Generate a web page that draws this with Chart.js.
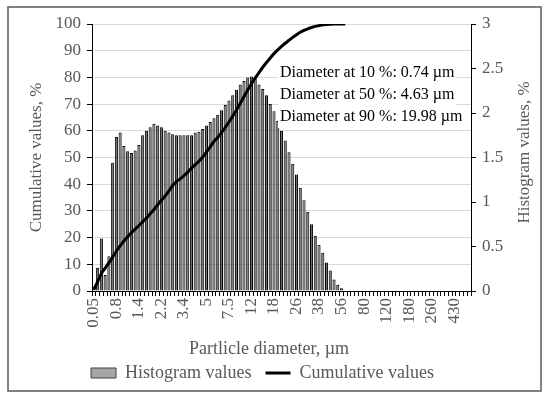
<!DOCTYPE html>
<html>
<head>
<meta charset="utf-8">
<script src="https://cdn.jsdelivr.net/npm/chart.js@4.4.1/dist/chart.umd.min.js"></script>
<style>
  html, body { margin:0; padding:0; background:#fff; }
  #wrap { width:550px; height:398px; }
</style>
</head>
<body>
<div id="wrap"><canvas id="chart" width="550" height="398"></canvas></div>
<script>
// size classes: only every 6th class carries a label on the axis
const tickLabels = ['0.05','0.8','1.4','2.2','3.4','5','7.5','12','18','26','38','56','80','120','180','260','430'];
const labelStep = 6;
const classCount = 101;

// histogram values, % (right axis)
const histogram = [
  0.05, 0.26, 0.59, 0.18, 0.39,
  1.44, 1.73, 1.78, 1.63, 1.57, 1.55, 1.58, 1.64,
  1.75, 1.80, 1.84, 1.88, 1.86, 1.84, 1.80, 1.78, 1.76, 1.75,
  1.75, 1.75, 1.75, 1.75, 1.78, 1.79, 1.82, 1.86, 1.90, 1.94, 1.98,
  2.03, 2.09, 2.14, 2.20, 2.26, 2.32, 2.36, 2.40, 2.41, 2.39, 2.32,
  2.27, 2.20, 2.10, 2.02, 1.91, 1.80, 1.69, 1.56, 1.43, 1.31, 1.16,
  1.02, 0.89, 0.75, 0.62, 0.52, 0.43, 0.32, 0.23, 0.13, 0.07, 0.03,
  0, 0, 0, 0, 0, 0, 0, 0, 0, 0, 0, 0, 0, 0, 0, 0, 0,
  0, 0, 0, 0, 0, 0, 0, 0, 0, 0, 0, 0, 0, 0, 0, 0, 0
];

// cumulative values, % (left axis) - line stops where it reaches 100
const cumulative = [
  0.5, 3.5, 6.5, 8.6, 10.5, 12.7, 14.9, 16.9, 18.7, 20.3,
  21.8, 23.2, 24.5, 25.9, 27.3, 28.9, 30.5, 32.3, 34.0, 35.6,
  37.5, 39.5, 41.0, 42.0, 43.2, 44.5, 46.0, 47.3, 48.6, 50.2,
  52.0, 54.0, 56.0, 57.5, 59.3, 61.2, 63.3, 65.5, 67.8, 70.3,
  72.8, 75.3, 77.6, 79.8, 81.8, 83.8, 85.6, 87.3, 88.9, 90.3,
  91.6, 92.8, 93.9, 95.0, 96.0, 96.9, 97.6, 98.2, 98.7, 99.1,
  99.4, 99.7, 99.85, 99.95, 100, 100, 100, 100
];

const notes = ['Diameter at 10 %: 0.74 µm', 'Diameter at 50 %: 4.63 µm', 'Diameter at 90 %: 19.98 µm'];

const categories = Array.from({length: classCount}, (_, i) => i % labelStep === 0 ? (tickLabels[i / labelStep] || '') : '');

const FONT = "'Liberation Serif', 'Times New Roman', serif";
const GREY = '#595959';

// frame, x title, right title and the diameter notes
const extras = {
  id: 'extras',
  afterDatasetsDraw(chart){
    const c = chart.ctx;
    const a = chart.chartArea;
    c.save();
    c.font = '16px ' + FONT;
    c.textBaseline = 'middle';
    notes.forEach((t, i) => {
      const x = a.left + 188, y = a.top + 49 + i * 22;
      const w = c.measureText(t).width;
      c.fillStyle = '#fff';
      c.fillRect(x - 2, y - 11, w + 4, 22);
      c.fillStyle = '#000';
      c.fillText(t, x, y);
    });
    c.restore();
  },
  afterDraw(chart){
    const c = chart.ctx;
    const a = chart.chartArea;
    c.save();
    c.fillStyle = GREY;
    c.font = '18px ' + FONT;
    c.textAlign = 'center';
    c.textBaseline = 'middle';
    c.fillText('Partlicle diameter, µm', 269, 349);
    c.font = '17px ' + FONT;
    c.translate(525, (a.top + a.bottom) / 2 - 5);
    c.rotate(-Math.PI / 2);
    c.fillText('Histogram values, %', 0, 0);
    c.restore();
    c.save();
    c.strokeStyle = GREY;
    c.lineWidth = 1.5;
    c.strokeRect(8, 7, 533, 384);
    c.restore();
  }
};

const trimZero = v => String(Number(v));

new Chart(document.getElementById('chart'), {
  type: 'bar',
  data: {
    labels: categories,
    datasets: [
      {
        type: 'bar',
        label: 'Histogram values',
        data: histogram,
        yAxisID: 'yHist',
        backgroundColor: '#6e6e6e',
        borderColor: '#000',
        borderWidth: 1,
        barPercentage: 0.82,
        categoryPercentage: 1,
        order: 2
      },
      {
        type: 'line',
        label: 'Cumulative values',
        data: cumulative,
        yAxisID: 'yCum',
        borderColor: '#000',
        borderWidth: 3,
        pointRadius: 0,
        tension: 0.3,
        borderJoinStyle: 'round',
        order: 1
      }
    ]
  },
  options: {
    responsive: false,
    animation: false,
    devicePixelRatio: 1,
    layout: { padding: { left: 4, right: 29, top: 24, bottom: 6 } },
    plugins: {
      tooltip: { enabled: false },
      legend: {
        position: 'bottom',
        labels: {
          usePointStyle: true,
          pointStyleWidth: 25,
          boxHeight: 10,
          padding: 14,
          color: GREY,
          font: { family: FONT, size: 18 },
          generateLabels: () => [
            { text: 'Histogram values', pointStyle: 'rect', fillStyle: '#a6a6a6', strokeStyle: '#404040', lineWidth: 1, datasetIndex: 0, fontColor: GREY },
            { text: 'Cumulative values', pointStyle: 'line', fillStyle: '#000', strokeStyle: '#000', lineWidth: 3, datasetIndex: 1, fontColor: GREY }
          ]
        }
      }
    },
    scales: {
      x: {
        offset: true,
        grid: { display: true, drawOnChartArea: false, offset: true, tickLength: 5, color: '#000' },
        border: { display: true, color: '#000', width: 1 },
        ticks: {
          autoSkip: false,
          minRotation: 90,
          maxRotation: 90,
          padding: 2,
          color: GREY,
          font: { family: FONT, size: 17 }
        },
        afterFit(s){ s.height = 59; }
      },
      yCum: {
        position: 'left',
        min: 0,
        max: 100,
        ticks: { stepSize: 10, color: GREY, padding: 6, font: { family: FONT, size: 17 } },
        grid: { color: '#d9d9d9', tickColor: '#000', tickLength: 5 },
        border: { display: true, color: '#000', width: 1 },
        title: { display: true, text: 'Cumulative values, %', color: GREY, font: { family: FONT, size: 17 }, padding: { top: 22, bottom: 0 } },
        afterFit(s){ s.width = 88; }
      },
      yHist: {
        position: 'right',
        min: 0,
        max: 3,
        ticks: { stepSize: 0.5, color: GREY, padding: 6, font: { family: FONT, size: 17 }, callback: trimZero },
        grid: { drawOnChartArea: false, tickColor: '#000', tickLength: 5 },
        border: { display: true, color: '#000', width: 1 },
        afterFit(s){ s.width = 50; }
      }
    }
  },
  plugins: [extras]
});
</script>
</body>
</html>
